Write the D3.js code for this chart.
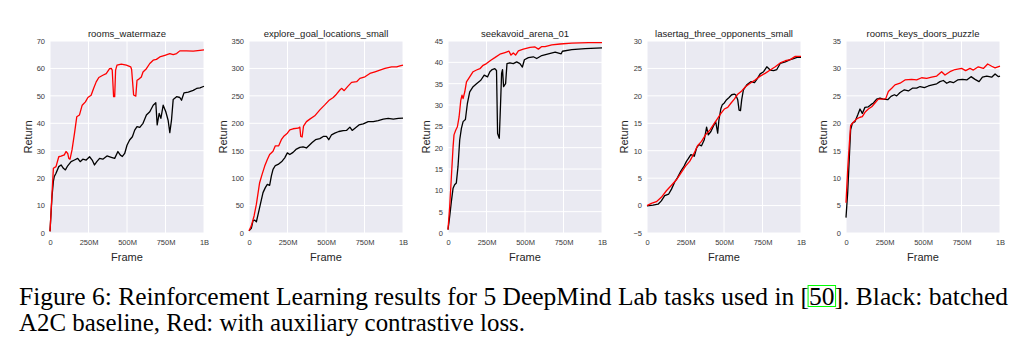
<!DOCTYPE html>
<html>
<head>
<meta charset="utf-8">
<script src="https://cdn.jsdelivr.net/npm/d3@7"></script>
<style>
  html, body { margin: 0; padding: 0; background: #ffffff; }
  svg { display: block; }
</style>
</head>
<body>
<svg id="chart" width="1028" height="348"></svg>
<script>
// ---------------- DATA ----------------
const panelTitles = ["rooms_watermaze", "explore_goal_locations_small", "seekavoid_arena_01",
  "lasertag_three_opponents_small", "rooms_keys_doors_puzzle"];

const frameTicks = [0, 250, 500, 750, 1000];            // in millions of frames
const frameTickLabels = ["0", "250M", "500M", "750M", "1B"];

const yTicksWatermaze = [0, 10, 20, 30, 40, 50, 60, 70];
const yTicksExplore = [0, 50, 100, 150, 200, 250, 300, 350];
const yTicksSeekavoid = [0, 5, 10, 15, 20, 25, 30, 35, 40, 45];
const yTicksLasertag = [-5, 0, 5, 10, 15, 20, 25, 30];
const yTicksKeysDoors = [0, 5, 10, 15, 20, 25, 30, 35];

// [frame (M), return]
const watermazeBlack = [[0,0.6],[13,13.3],[22,18.8],[28,20.6],[39,21.8],[57,24.2],[72,24.8],[87,23.6],[100,23],
  [115,24.5],[137,26],[159,26.6],[180,27.2],[196,26],[213,26.9],[235,26.6],[257,27.8],[274,26.6],[289,24.8],
  [304,26],[322,27.2],[343,26.9],[370,28.1],[398,27.6],[420,27.2],[441,29.7],[457,28.4],[470,27.9],[485,29],
  [500,32],[517,33.9],[535,35.1],[550,37.5],[565,38.8],[583,38.5],[604,40],[626,43],[648,44.2],[670,46.6],
  [687,47.5],[696,39.4],[709,43.6],[720,41.8],[735,46.6],[752,44.2],[767,41.1],[778,36.6],[789,41.2],
  [800,48.7],[822,49.7],[843,49.4],[854,48.4],[870,51.1],[898,51.4],[930,52],[952,52.7],[974,52.9],[1000,53.5]];
const watermazeRed = [[0,0.6],[22,23.6],[39,24.2],[57,27.8],[72,28],[93,28.5],[104,29.7],[115,29],[122,27.2],
  [130,26.9],[143,30.3],[159,36.3],[174,42.4],[191,43],[209,46.6],[230,47.8],[246,49.4],[267,50.2],[283,52.7],
  [300,55.1],[317,56.7],[343,57.5],[365,58.1],[387,59.9],[398,60],[404,59.4],[413,49.7],[420,49.7],[426,59.4],
  [435,61.2],[463,61.6],[496,61.2],[524,60.6],[530,59.6],[543,50.3],[557,49.9],[565,55.7],[572,55.9],
  [593,56.9],[604,58.7],[626,59.9],[648,61.8],[670,63],[691,63.3],[713,64.2],[746,64.8],[778,65.4],
  [800,65],[822,65.4],[843,66.4],[887,66.4],[930,66.3],[974,66.6],[1000,66.8]];

const exploreBlack = [[0,4.2],[15,8.4],[26,22.3],[37,23.5],[48,20.5],[59,34],[74,52.5],[91,73.6],[106,82.7],
  [119,88.7],[134,86.9],[145,103.8],[156,115.9],[171,123],[189,125],[215,131],[232,137],[249,146],[265,143],
  [286,147],[308,153],[330,156],[351,157],[373,155],[395,161],[410,165],[432,170],[460,172],[482,176],
  [503,176],[518,170],[536,179],[557,182],[583,185],[612,186.5],[633,187],[655,193],[670,187],[688,191],
  [714,197],[742,199],[774,203],[807,203],[839,205],[872,207.6],[904,208.8],[937,207.6],[970,208.8],[1000,209.4]];
const exploreRed = [[0,4.2],[15,13],[33,31],[48,52.5],[69,91.7],[85,106.8],[102,122],[119,134],[134,143],
  [156,149],[171,159],[193,159],[210,170],[228,177],[249,182],[265,188],[286,190],[319,191],[330,193],
  [336,176],[345,175],[354,195],[373,203],[395,207.6],[427,213.6],[460,224.5],[492,233.5],[518,241.4],
  [547,247],[568,253],[590,260.7],[601,263.7],[618,259.5],[640,266.8],[666,274.6],[699,275.8],[720,281.8],
  [753,284.8],[785,290.8],[818,293.8],[850,296.9],[883,299.9],[926,302.9],[959,302.9],[980,304.7],[1000,305.9]];

const seekavoidBlack = [[0,0.8],[11,3.9],[22,7.4],[33,10.5],[43,11.3],[54,11.7],[65,15.6],[76,21.8],[87,24.5],
  [98,26.1],[113,26.6],[126,30.4],[141,33.1],[163,34.3],[185,35],[213,35.8],[235,37],[257,36.6],[272,37.8],
  [287,38.3],[304,38.5],[315,38.1],[322,23.3],[333,22.2],[341,30],[348,37.4],[354,38.3],[361,34.3],[374,35],
  [383,39.7],[402,39.9],[424,39.7],[446,40.1],[467,39.7],[483,38.9],[496,40.6],[522,41.1],[554,41.3],
  [576,40.9],[609,41.6],[652,42],[696,42.4],[735,42],[743,42.6],[804,43],[891,43.2],[1000,43.4]];
const seekavoidRed = [[0,0.8],[11,6.2],[22,13.2],[33,20.2],[39,23],[50,24.1],[61,24.9],[72,27.2],[83,31.1],
  [91,32.3],[98,31.5],[109,33.1],[120,35.4],[141,36.6],[163,37.8],[185,38.2],[207,38.5],[228,39.3],[250,39.7],
  [278,40.5],[304,41.1],[337,41.9],[370,42.3],[396,42.6],[409,41.7],[424,42.2],[439,41.7],[457,42.7],
  [489,43.1],[533,43.5],[565,43.6],[587,43.1],[609,43.7],[630,43.7],[674,44.1],[728,44.3],[804,44.5],
  [913,44.6],[1000,44.6]];

const lasertagBlack = [[0,-0.06],[39,0.07],[72,0.25],[93,0.85],[115,1.8],[141,2.1],[159,3],[180,4.3],[198,5.1],
  [220,6.3],[241,7.2],[257,8.1],[267,8.5],[285,9.3],[307,9],[322,10.5],[337,11.1],[354,10.9],[372,12],
  [387,14.3],[398,12.9],[415,13.5],[430,14.4],[446,15.3],[459,13.2],[467,15.6],[480,17.7],[489,18.4],
  [502,18.7],[517,19.3],[533,19.7],[550,20.2],[567,20.3],[576,20.2],[589,19.3],[598,17.4],[607,17.3],
  [615,19.3],[626,21.1],[648,22],[676,22.6],[698,22.4],[713,23],[735,24],[757,24.4],[778,25.3],[800,24.7],
  [822,24.6],[843,24.8],[865,25.9],[898,26.2],[930,26.6],[952,26.8],[974,27],[1000,27]];
const lasertagRed = [[0,0],[28,0.4],[61,0.7],[93,1.5],[126,2.7],[159,3.7],[191,4.7],[220,5.9],[250,7.2],
  [278,8.1],[307,9.6],[328,10.9],[354,11.7],[380,12.9],[409,13.8],[437,15],[459,15.9],[480,16.8],[502,17.6],
  [524,17.9],[546,18.7],[567,19.4],[589,20.3],[615,20.9],[641,21.7],[670,22.3],[702,22.9],[735,23.6],
  [767,24.1],[800,24.7],[833,25.3],[865,26],[898,26.4],[930,26.6],[963,27.2],[1000,27.2]];

const keysDoorsBlack = [[0,2.8],[11,7.4],[22,14],[30,18.8],[41,20],[58,20.3],[76,21.5],[91,22.6],[106,21.8],
  [123,22.9],[145,23],[162,23.4],[178,23.7],[199,24.4],[221,24.6],[242,24.4],[271,24.3],[292,24.9],[314,25.2],
  [329,25],[351,25.6],[379,26.1],[405,25.9],[431,26.4],[459,26.4],[481,26.7],[509,26.5],[535,26.8],[561,27],
  [589,27.2],[610,27.6],[632,27.8],[654,27.3],[675,27.6],[697,27.4],[725,27.9],[756,28],[784,27.9],[812,28.5],
  [838,28],[864,27.6],[886,28.4],[914,28.6],[946,28.4],[968,29],[990,28.5],[1000,28.6]];
const keysDoorsRed = [[0,5.5],[11,11.6],[22,16.4],[30,19.6],[48,20.2],[69,20.8],[91,21.1],[106,21.2],[123,22],
  [145,22.6],[167,23],[188,23.7],[210,24.4],[236,24.4],[258,24.5],[275,25.8],[297,26.4],[318,27],[351,27.3],
  [383,27.9],[426,28],[459,27.9],[491,28.3],[524,28.2],[556,28.4],[589,28.6],[621,29.4],[643,28.8],[675,29.4],
  [708,29.8],[751,30],[777,29.6],[805,30],[827,29.7],[859,30.3],[892,30],[920,30.8],[946,30.4],[968,30.1],[1000,30.4]];

const captionLine1 = "Figure 6: Reinforcement Learning results for 5 DeepMind Lab tasks used in [50]. Black: batched";
const captionLine2 = "A2C baseline, Red: with auxiliary contrastive loss.";

// ---------------- LAYOUT ----------------
const panels = [
  { title: panelTitles[0], yTicks: yTicksWatermaze, black: watermazeBlack, red: watermazeRed, labelOffset: 22 },
  { title: panelTitles[1], yTicks: yTicksExplore, black: exploreBlack, red: exploreRed, labelOffset: 26 },
  { title: panelTitles[2], yTicks: yTicksSeekavoid, black: seekavoidBlack, red: seekavoidRed, labelOffset: 22 },
  { title: panelTitles[3], yTicks: yTicksLasertag, black: lasertagBlack, red: lasertagRed, labelOffset: 23 },
  { title: panelTitles[4], yTicks: yTicksKeysDoors, black: keysDoorsBlack, red: keysDoorsRed, labelOffset: 23 }
];

const svg = d3.select("#chart");
const firstLeft = 50, step = 199, plotW = 154, plotTop = 41, plotBottom = 233;
const sansFont = "'Liberation Sans', Arial, sans-serif";

panels.forEach((p, i) => {
  const left = firstLeft + i * step;
  const x = d3.scaleLinear().domain([0, 1000]).range([left, left + plotW]);
  const yExt = d3.extent(p.yTicks);
  const y = d3.scaleLinear().domain(yExt).range([plotBottom, plotTop]);
  const g = svg.append("g").attr("class", "panel");

  g.append("rect").attr("x", left).attr("y", plotTop)
    .attr("width", plotW).attr("height", plotBottom - plotTop).attr("fill", "#EAEAF2");

  // grid
  g.selectAll("line.gx").data(frameTicks).enter().append("line")
    .attr("x1", d => x(d)).attr("x2", d => x(d)).attr("y1", plotTop).attr("y2", plotBottom)
    .attr("stroke", "#ffffff").attr("stroke-width", 1);
  g.selectAll("line.gy").data(p.yTicks).enter().append("line")
    .attr("x1", left).attr("x2", left + plotW).attr("y1", d => y(d)).attr("y2", d => y(d))
    .attr("stroke", "#ffffff").attr("stroke-width", 1);

  // axes
  const xAxis = d3.axisBottom(x).tickValues(frameTicks)
    .tickFormat((d, k) => frameTickLabels[k]).tickSize(0).tickPadding(7);
  const xg = g.append("g").attr("transform", `translate(0,${plotBottom})`).call(xAxis);
  xg.select(".domain").remove();
  xg.selectAll("text").attr("font-family", sansFont).attr("font-size", 7.5).attr("fill", "#3a3a3a");

  const yAxis = d3.axisLeft(y).tickValues(p.yTicks).tickSize(0).tickPadding(5);
  const yg = g.append("g").attr("transform", `translate(${left},0)`).call(yAxis);
  yg.select(".domain").remove();
  yg.selectAll("text").attr("font-family", sansFont).attr("font-size", 7.5).attr("fill", "#3a3a3a");

  // lines
  const line = d3.line().x(d => x(d[0])).y(d => y(d[1]));
  g.append("path").datum(p.black).attr("d", line).attr("fill", "none")
    .attr("stroke", "#000000").attr("stroke-width", 1.3).attr("stroke-linejoin", "round");
  g.append("path").datum(p.red).attr("d", line).attr("fill", "none")
    .attr("stroke", "#ff0000").attr("stroke-width", 1.3).attr("stroke-linejoin", "round");

  // title
  g.append("text").attr("x", left + plotW / 2).attr("y", 36.5)
    .attr("text-anchor", "middle").attr("font-family", sansFont).attr("font-size", 9.5)
    .attr("fill", "#1a1a1a").text(p.title);

  // axis labels
  g.append("text").attr("x", left + plotW / 2).attr("y", 260.5)
    .attr("text-anchor", "middle").attr("font-family", sansFont).attr("font-size", 11)
    .attr("fill", "#262626").text("Frame");
  const ly = (plotTop + plotBottom) / 2, lx = left - p.labelOffset;
  g.append("text").attr("transform", `translate(${lx + 4},${ly}) rotate(-90)`)
    .attr("text-anchor", "middle").attr("font-family", sansFont).attr("font-size", 11)
    .attr("fill", "#262626").text("Return");
});

// caption
const serif = "'Liberation Serif', 'Times New Roman', serif";
const cap1 = svg.append("text").attr("x", 19).attr("y", 305)
  .attr("font-family", serif).attr("font-size", 25).attr("fill", "#000")
  .attr("textLength", 989).attr("lengthAdjust", "spacingAndGlyphs")
  .text(captionLine1);
svg.append("text").attr("x", 19).attr("y", 331)
  .attr("font-family", serif).attr("font-size", 25).attr("fill", "#000")
  .attr("textLength", 506).attr("lengthAdjust", "spacingAndGlyphs")
  .text(captionLine2);

// green citation box around "50"
const idx = captionLine1.indexOf("[50]") + 1;
const node = cap1.node();
try {
  const a = node.getExtentOfChar(idx);
  const b = node.getExtentOfChar(idx + 1);
  svg.append("rect").attr("x", a.x - 1).attr("y", 285.5)
    .attr("width", (b.x + b.width) - a.x + 2).attr("height", 21)
    .attr("fill", "none").attr("stroke", "#00ff00").attr("stroke-width", 1);
} catch (e) {}
</script>
</body>
</html>
